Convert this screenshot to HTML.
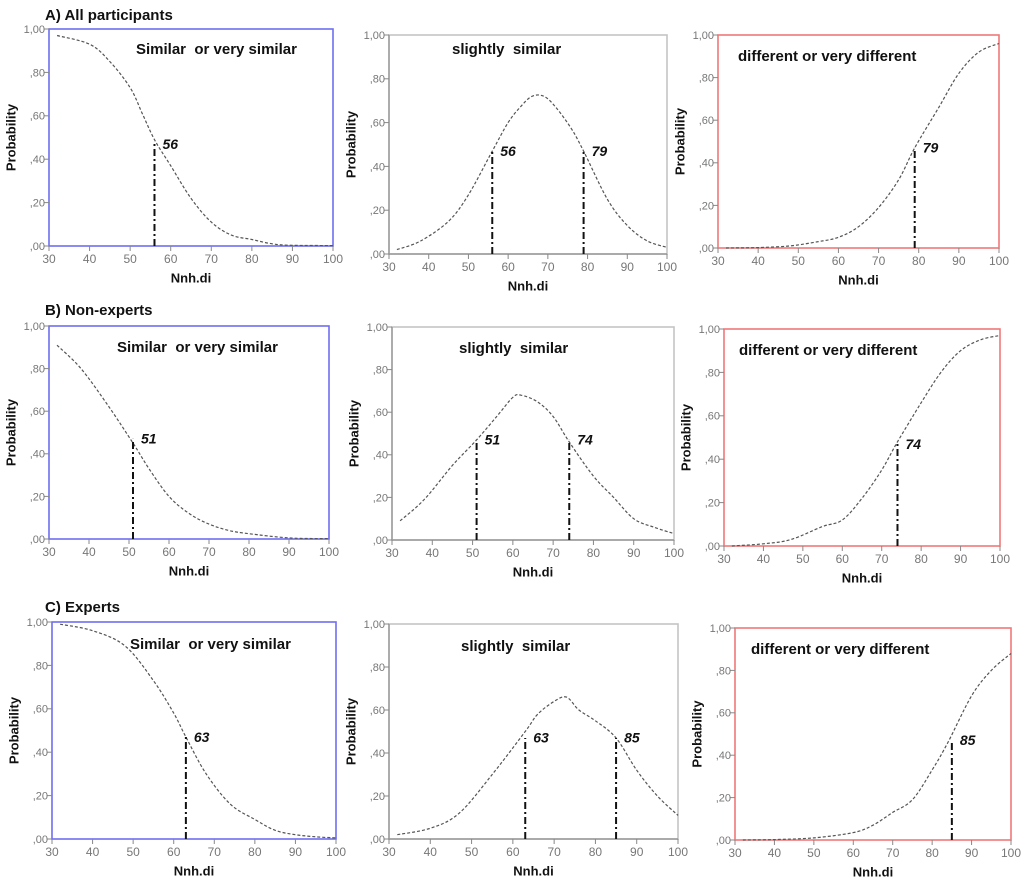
<!DOCTYPE html>
<html><head><meta charset="utf-8"><style>
html,body{margin:0;padding:0;background:#fff;width:1024px;height:884px;overflow:hidden}
svg{display:block}
text{font-family:"Liberation Sans",Arial,sans-serif;white-space:pre}
</style></head><body>
<svg id="chart" width="1024" height="884" viewBox="0 0 1024 884"></svg>
<script>
// ---- data ----
const xTicks = [30,40,50,60,70,80,90,100];
const yTicks = [0,0.2,0.4,0.6,0.8,1.0];
const yTickLabels = [",00",",20",",40",",60",",80","1,00"];
const rowLabels = ["A) All participants","B) Non-experts","C) Experts"];
const panelTitles = ["Similar  or very similar","slightly  similar","different or very different"];

const a1x=[32,40,45,50,53,56,60,65,70,75,80,85,90,100];
const a1y=[0.97,0.93,0.85,0.73,0.61,0.49,0.37,0.22,0.11,0.05,0.03,0.01,0.003,0.002];
const a2x=[32,38,45,50,56,60,63,66,69,72,76,79,85,90,95,100];
const a2y=[0.02,0.06,0.15,0.27,0.47,0.6,0.67,0.72,0.72,0.67,0.57,0.47,0.25,0.13,0.06,0.03];
const a3x=[32,40,48,55,60,65,70,75,79,85,90,95,100];
const a3y=[0,0.002,0.01,0.03,0.05,0.1,0.19,0.32,0.47,0.66,0.82,0.92,0.96];
const b1x=[32,38,45,51,55,60,65,70,75,80,90,100];
const b1y=[0.91,0.8,0.62,0.45,0.33,0.2,0.12,0.07,0.04,0.025,0.005,0.002];
const b2x=[32,38,45,51,56,60,62,66,70,74,80,85,90,95,100];
const b2y=[0.09,0.19,0.35,0.47,0.58,0.67,0.68,0.65,0.58,0.46,0.3,0.2,0.1,0.06,0.03];
const b3x=[32,40,47,55,60,65,70,74,80,85,90,95,100];
const b3y=[0,0.01,0.03,0.09,0.12,0.22,0.35,0.48,0.66,0.8,0.9,0.95,0.97];
const c1x=[32,40,48,55,60,63,68,74,80,85,90,95,100];
const c1y=[0.99,0.96,0.89,0.73,0.58,0.47,0.3,0.16,0.09,0.04,0.02,0.01,0.005];
const c2x=[32,40,47,55,63,66,70,73,76,80,85,90,95,100];
const c2y=[0.02,0.05,0.12,0.3,0.5,0.58,0.64,0.66,0.6,0.55,0.47,0.32,0.2,0.11];
const c3x=[32,40,50,60,65,70,75,80,84,90,95,100];
const c3y=[0,0.002,0.01,0.035,0.07,0.13,0.19,0.33,0.46,0.68,0.8,0.88];

const cutA1=[56], cutA2=[56,79], cutA3=[79];
const cutB1=[51], cutB2=[51,74], cutB3=[74];
const cutC1=[63], cutC2=[63,85], cutC3=[85];

// ---- layout ----
const NS="http://www.w3.org/2000/svg";
const svg=document.getElementById('chart');
function mk(tag,attrs,parent){const e=document.createElementNS(NS,tag);for(const k in attrs)e.setAttribute(k,attrs[k]);(parent||svg).appendChild(e);return e;}

const frameColors=["#6e6ef0","#c4c4c4","#f07878"];
const panels=[
 {r:0,c:0,L:49,T:29,R:333,B:246,xs:a1x,ys:a1y,cuts:cutA1,tx:136,ty:50},
 {r:0,c:1,L:389,T:35,R:667,B:254,xs:a2x,ys:a2y,cuts:cutA2,tx:452,ty:50},
 {r:0,c:2,L:718,T:35,R:999,B:248,xs:a3x,ys:a3y,cuts:cutA3,tx:738,ty:57},
 {r:1,c:0,L:49,T:326,R:329,B:539,xs:b1x,ys:b1y,cuts:cutB1,tx:117,ty:348},
 {r:1,c:1,L:392,T:327,R:674,B:540,xs:b2x,ys:b2y,cuts:cutB2,tx:459,ty:349},
 {r:1,c:2,L:724,T:329,R:1000,B:546,xs:b3x,ys:b3y,cuts:cutB3,tx:739,ty:351},
 {r:2,c:0,L:52,T:622,R:336,B:839,xs:c1x,ys:c1y,cuts:cutC1,tx:130,ty:645},
 {r:2,c:1,L:389,T:624,R:678,B:839,xs:c2x,ys:c2y,cuts:cutC2,tx:461,ty:647},
 {r:2,c:2,L:735,T:628,R:1011,B:840,xs:c3x,ys:c3y,cuts:cutC3,tx:751,ty:650}
];
const rowLabelPos=[[45,16],[45,311],[45,608]];
rowLabels.forEach((t,i)=>{
  const e=mk('text',{x:rowLabelPos[i][0],y:rowLabelPos[i][1],'font-size':15,'font-weight':'bold','dominant-baseline':'middle',fill:'#111'});
  e.textContent=t;
  
  
});

function smooth(P){
  let d='M'+P[0][0].toFixed(1)+','+P[0][1].toFixed(1);
  for(let i=0;i<P.length-1;i++){
    const p0=P[i-1]||P[i],p1=P[i],p2=P[i+1],p3=P[i+2]||p2;
    const c1=[p1[0]+(p2[0]-p0[0])/6,p1[1]+(p2[1]-p0[1])/6];
    const c2=[p2[0]-(p3[0]-p1[0])/6,p2[1]-(p3[1]-p1[1])/6];
    d+=' C'+c1.map(v=>v.toFixed(1)).join(',')+' '+c2.map(v=>v.toFixed(1)).join(',')+' '+p2[0].toFixed(1)+','+p2[1].toFixed(1);
  }
  return d;
}

panels.forEach((p,idx)=>{
  const g=mk('g',{});
  
  
  const sx=v=>p.L+(v-30)/70*(p.R-p.L);
  const sy=v=>p.B-v*(p.B-p.T);
  const fc=frameColors[p.c];
  const fr=mk('rect',{x:p.L,y:p.T,width:p.R-p.L,height:p.B-p.T,fill:'none',stroke:fc,'stroke-width':1.6},g);
  
  
  if(p.c===1){
    mk('line',{x1:p.L,y1:p.T,x2:p.L,y2:p.B,stroke:'#999','stroke-width':1.4},g);
    mk('line',{x1:p.L,y1:p.B,x2:p.R,y2:p.B,stroke:'#999','stroke-width':1.4},g);
  }
  yTicks.forEach((v,i)=>{
    mk('line',{x1:p.L-5,y1:sy(v),x2:p.L,y2:sy(v),stroke:'#888','stroke-width':1},g);
    const t=mk('text',{x:p.L-4,y:sy(v)+1,'font-size':11,fill:'#777','text-anchor':'end','dominant-baseline':'middle'},g);
    t.textContent=yTickLabels[i];
    
    
  });
  xTicks.forEach(v=>{
    mk('line',{x1:sx(v),y1:p.B,x2:sx(v),y2:p.B+5,stroke:'#888','stroke-width':1},g);
    const t=mk('text',{x:sx(v),y:p.B+14,'font-size':12,fill:'#777','text-anchor':'middle','dominant-baseline':'middle'},g);
    t.textContent=v;
    
    
  });
  const xt=mk('text',{x:(p.L+p.R)/2,y:p.B+33,'font-size':13,'font-weight':'bold',fill:'#111','text-anchor':'middle','dominant-baseline':'middle'},g);
  xt.textContent='Nnh.di';
  
  
  const yx=p.L-37, ym=(p.T+p.B)/2;
  const yt=mk('text',{x:yx,y:ym,'font-size':13,'font-weight':'bold',fill:'#111','text-anchor':'middle','dominant-baseline':'middle',transform:`rotate(-90 ${yx} ${ym})`},g);
  yt.textContent='Probability';
  
  
  const tt=mk('text',{x:p.tx,y:p.ty,'font-size':15,'font-weight':'bold',fill:'#111','dominant-baseline':'middle'},g);
  tt.textContent=panelTitles[p.c];
  
  
  const P=p.xs.map((x,i)=>[sx(x),sy(p.ys[i])]);
  const cl=mk('path',{d:smooth(P),fill:'none',stroke:'#555','stroke-width':1.2,'stroke-dasharray':'3,2'},g);
  
  
  p.cuts.forEach(c=>{
    const ln=mk('line',{x1:sx(c),y1:p.B,x2:sx(c),y2:sy(0.47),stroke:'#111','stroke-width':2,'stroke-dasharray':'7,3,2,3'},g);
    
    
    const lb=mk('text',{x:sx(c)+8,y:sy(0.465),'font-size':14,'font-weight':'bold','font-style':'italic',fill:'#111','dominant-baseline':'middle'},g);
    lb.textContent=c;
    
    
  });
});
</script>
</body></html>
